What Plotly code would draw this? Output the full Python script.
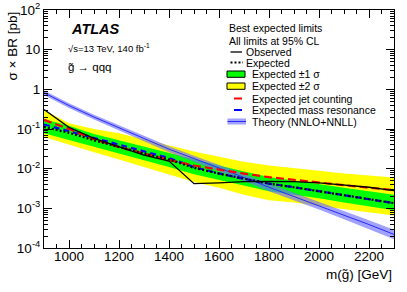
import plotly.graph_objects as go

mass = [900, 1000, 1100, 1200, 1300, 1400, 1500, 1600, 1700, 1800, 1900, 2000, 2100, 2200, 2300]
observed = [0.31, 0.11, 0.058, 0.035, 0.022, 0.0155, 0.0042, 0.0044, 0.0047, 0.0048, 0.0047, 0.0044, 0.0039, 0.0034, 0.0028]
expected = [0.113, 0.08, 0.052, 0.035, 0.024, 0.017, 0.0105, 0.0075, 0.0055, 0.0042, 0.0034, 0.0027, 0.0022, 0.0017, 0.00135]
exp_up1 = [0.175, 0.12, 0.075, 0.052, 0.035, 0.025, 0.017, 0.012, 0.0085, 0.0062, 0.005, 0.004, 0.0033, 0.0027, 0.0022]
exp_dn1 = [0.078, 0.053, 0.035, 0.024, 0.016, 0.011, 0.0072, 0.0052, 0.0036, 0.0027, 0.0022, 0.0018, 0.0014, 0.0011, 0.0009]
exp_up2 = [0.30, 0.14, 0.10, 0.078, 0.055, 0.038, 0.027, 0.020, 0.015, 0.012, 0.0105, 0.0088, 0.0076, 0.0068, 0.006]
exp_dn2 = [0.063, 0.040, 0.026, 0.017, 0.011, 0.0072, 0.0046, 0.0033, 0.0022, 0.0016, 0.0014, 0.00115, 0.00095, 0.0008, 0.00066]
jet_counting = [0.17, 0.10, 0.055, 0.035, 0.024, 0.0165, 0.012, 0.0094, 0.0075, 0.0061, 0.0052, 0.0045, 0.0039, 0.0033, 0.0029]
mass_resonance = [0.13, 0.088, 0.057, 0.039, 0.027, 0.0185, 0.011, 0.0076, 0.0055, 0.0042, 0.0034, 0.0027, 0.0022, 0.0017, 0.00135]
theory = [0.82, 0.39, 0.20, 0.108, 0.058, 0.031, 0.018, 0.0105, 0.006, 0.0034, 0.002, 0.00118, 0.00068, 0.00039, 0.00022]
theory_up = [0.93, 0.445, 0.23, 0.125, 0.068, 0.0365, 0.0213, 0.0126, 0.0073, 0.0042, 0.00248, 0.00148, 0.00086, 0.0005, 0.00029]
theory_dn = [0.72, 0.34, 0.173, 0.093, 0.049, 0.026, 0.015, 0.0087, 0.0049, 0.0027, 0.0016, 0.00094, 0.00053, 0.0003, 0.000165]

ytickvals = [1e-4, 1e-3, 1e-2, 1e-1, 1, 10, 100]
yticktext = ["10<sup>-4</sup>", "10<sup>-3</sup>", "10<sup>-2</sup>", "10<sup>-1</sup>", "1", "10", "10<sup>2</sup>"]
yminor = [m * 10 ** e for e in range(-4, 2) for m in range(2, 10)]

FONT = "Liberation Sans, Arial, Helvetica, sans-serif"
GREEN = "#00ff00"
YELLOW = "#ffff00"
THBAND = "rgba(110,110,255,0.65)"
THLINE = "#2a2aff"

fig = go.Figure()

# yellow band
fig.add_trace(go.Scatter(x=mass, y=exp_dn2, mode="lines", line=dict(width=0), showlegend=False, hoverinfo="skip"))
fig.add_trace(go.Scatter(x=mass, y=exp_up2, mode="lines", line=dict(width=0), fill="tonexty",
                         fillcolor=YELLOW, showlegend=False, hoverinfo="skip"))
# green band
fig.add_trace(go.Scatter(x=mass, y=exp_dn1, mode="lines", line=dict(width=0), showlegend=False, hoverinfo="skip"))
fig.add_trace(go.Scatter(x=mass, y=exp_up1, mode="lines", line=dict(width=0), fill="tonexty",
                         fillcolor=GREEN, showlegend=False, hoverinfo="skip"))
# theory band
fig.add_trace(go.Scatter(x=mass, y=theory_dn, mode="lines", line=dict(width=0), showlegend=False, hoverinfo="skip"))
fig.add_trace(go.Scatter(x=mass, y=theory_up, mode="lines", line=dict(width=0), fill="tonexty",
                         fillcolor=THBAND, showlegend=False, hoverinfo="skip"))
fig.add_trace(go.Scatter(x=mass, y=theory, mode="lines", line=dict(color=THLINE, width=1), showlegend=False))
# jet counting / mass resonance
fig.add_trace(go.Scatter(x=mass, y=mass_resonance, mode="lines",
                         line=dict(color="#0000ff", width=2.2, dash="6px,4px"), showlegend=False))
fig.add_trace(go.Scatter(x=mass, y=jet_counting, mode="lines",
                         line=dict(color="#ff0000", width=2.2, dash="8px,4px"), showlegend=False))
# expected
fig.add_trace(go.Scatter(x=mass, y=expected, mode="lines",
                         line=dict(color="black", width=2.2, dash="2px,2px"), showlegend=False))
# observed
fig.add_trace(go.Scatter(x=mass, y=observed, mode="lines", line=dict(color="black", width=1.3), showlegend=False))

fig.update_layout(
    width=407, height=292,
    margin=dict(l=44, r=13, t=10, b=44),
    paper_bgcolor="white", plot_bgcolor="white",
    font=dict(family=FONT, size=13.5, color="black"),
    showlegend=False,
)
fig.update_xaxes(
    range=[900, 2300], showgrid=False, zeroline=False, automargin=False,
    showline=True, linecolor="black", linewidth=1, mirror="allticks",
    ticks="inside", ticklen=8, tickcolor="black", dtick=200, tick0=1000,
    tickfont=dict(size=13.5), ticklabelstandoff=-4,
    minor=dict(ticks="inside", ticklen=4, dtick=50, tick0=900, tickcolor="black", showgrid=False),
)
fig.update_yaxes(
    type="log", range=[-4, 2], showgrid=False, zeroline=False, automargin=False,
    showline=True, linecolor="black", linewidth=1, mirror="allticks",
    ticks="inside", ticklen=8, tickcolor="black",
    tickmode="array", tickvals=ytickvals, ticktext=yticktext,
    tickfont=dict(size=13.5),
    minor=dict(ticks="inside", ticklen=4, tickmode="array", tickvals=yminor, tickcolor="black", showgrid=False),
)

W, H = 350.0, 238.0
def px(x):
    return (x - 44) / W
def py(y):
    return (248 - y) / H

ann = []
ann.append(dict(text="σ × BR [pb]", x=px(12), y=1.0, xref="paper", yref="paper", textangle=-90,
                xanchor="center", yanchor="top", showarrow=False, font=dict(size=13.5)))
ann.append(dict(text="m(g̃) [GeV]", x=1.0, y=py(274), xref="paper", yref="paper",
                xanchor="right", yanchor="middle", showarrow=False, font=dict(size=13.5)))
ann.append(dict(text="<b><i>ATLAS</i></b>", x=px(69), y=py(29), xref="paper", yref="paper",
                xanchor="left", yanchor="middle", showarrow=False, font=dict(size=14.5)))
ann.append(dict(text="√s=13 TeV, 140 fb<sup>-1</sup>", x=px(66), y=py(48), xref="paper", yref="paper",
                xanchor="left", yanchor="middle", showarrow=False, font=dict(size=9.5)))
ann.append(dict(text="g̃ → qqq", x=px(66), y=py(67), xref="paper", yref="paper",
                xanchor="left", yanchor="middle", showarrow=False, font=dict(size=11.5)))

LS = 10.5
legend_text = [
    ("Best expected limits", 227, 28.5),
    ("All limits at 95% CL", 227, 40.5),
    ("Observed", 244, 52),
    ("Expected", 244, 62.5),
    ("Expected ±1 σ", 250, 74),
    ("Expected ±2 σ", 250, 86),
    ("Expected jet counting", 250, 98.5),
    ("Expected mass resonance", 250, 110),
    ("Theory (NNLO+NNLL)", 250, 121.5),
]
for t, x, y in legend_text:
    ann.append(dict(text=t, x=px(x), y=py(y), xref="paper", yref="paper",
                    xanchor="left", yanchor="middle", showarrow=False, font=dict(size=LS)))

shapes = []
def line(x0, x1, y, color, width, dash="solid"):
    shapes.append(dict(type="line", xref="paper", yref="paper", x0=px(x0), x1=px(x1), y0=py(y), y1=py(y),
                       line=dict(color=color, width=width, dash=dash)))
def box(x0, x1, y0, y1, fill, lc="black", lw=1):
    shapes.append(dict(type="rect", xref="paper", yref="paper", x0=px(x0), x1=px(x1), y0=py(y0), y1=py(y1),
                       fillcolor=fill, line=dict(color=lc, width=lw)))

line(230.5, 242, 52, "black", 1.3)
line(230.5, 243, 62.5, "black", 2, "2px,2px")
box(227, 245, 71, 77.3, GREEN)
box(227, 245, 83, 89.3, YELLOW)
line(234, 242, 98.5, "#ff0000", 2)
line(234, 242, 110, "#0000ff", 2)
box(227.5, 246, 118.5, 124.5, THBAND, lc="rgba(0,0,0,0)", lw=0)
line(227.5, 246, 121.5, THLINE, 1)

fig.update_layout(annotations=ann, shapes=shapes)
fig.write_html("out.html", config={"displayModeBar": False},
               post_script="document.body.style.margin='0';")
